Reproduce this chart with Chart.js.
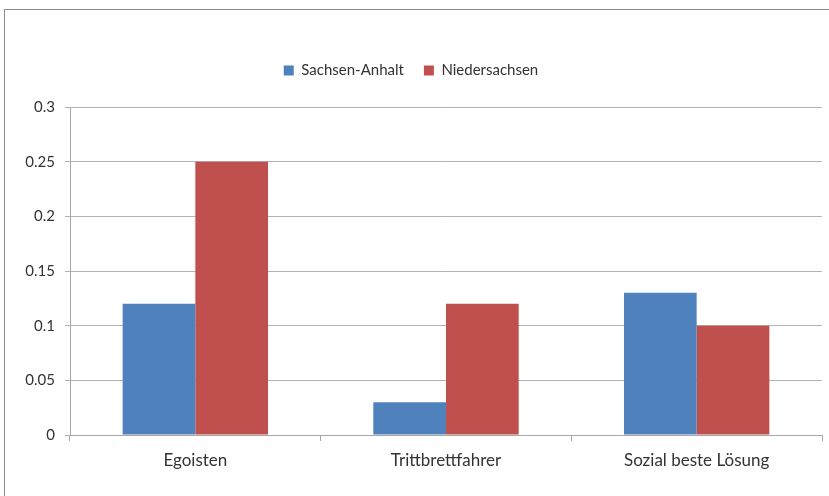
<!DOCTYPE html>
<html>
<head>
<meta charset="utf-8">
<script src="https://cdn.jsdelivr.net/npm/chart.js@4/dist/chart.umd.min.js"></script>
<style>
  html, body { margin: 0; padding: 0; background: #fff; }
  #wrap { position: relative; width: 829px; height: 496px; overflow: hidden; }
  #frame { position: absolute; left: 4px; top: 9px; width: 900px; height: 600px;
           border-left: 1px solid #8c8c8c; border-top: 1px solid #8c8c8c; }
  canvas { position: absolute; left: 0; top: 0; }
</style>
</head>
<body>
<div id="wrap">
  <div id="frame"></div>
  <canvas id="chart" width="829" height="496"></canvas>
</div>
<script>
const categories = ['Egoisten', 'Trittbrettfahrer', 'Sozial beste Lösung'];
const seriesNames = ['Sachsen-Anhalt', 'Niedersachsen'];
const sachsenAnhalt = [0.12, 0.03, 0.13];
const niedersachsen = [0.25, 0.12, 0.10];
const yTicks = [0, 0.05, 0.1, 0.15, 0.2, 0.25, 0.3];

const FONT = 'Lato, "Open Sans", sans-serif';

// legend spacing: pushes the plot down under the legend
const legendSpacer = {
  id: 'legendSpacer',
  beforeInit(chart) {
    const fit = chart.legend.fit;
    chart.legend.fit = function () {
      fit.bind(chart.legend)();
      this.height += 19;
    };
  }
};

new Chart(document.getElementById('chart'), {
  type: 'bar',
  data: {
    labels: categories,
    datasets: [
      { label: seriesNames[0], data: sachsenAnhalt, backgroundColor: '#4f81bd' },
      { label: seriesNames[1], data: niedersachsen, backgroundColor: '#c0504d' }
    ]
  },
  options: {
    responsive: false,
    animation: false,
    categoryPercentage: 0.58,
    barPercentage: 1.0,
    layout: { padding: { left: 0, right: 7, top: 43, bottom: 0 } },
    plugins: {
      tooltip: { enabled: false },
      legend: {
        position: 'top',
        labels: {
          boxWidth: 10,
          boxHeight: 10,
          padding: 20,
          color: '#333',
          font: { family: FONT, size: 15 }
        }
      }
    },
    scales: {
      x: {
        afterFit: s => { s.height = 61; },
        grid: {
          offset: true,
          drawOnChartArea: false,
          drawTicks: true,
          tickLength: 6,
          color: '#a6a6a6'
        },
        border: { color: '#a6a6a6' },
        ticks: {
          color: '#333',
          padding: 9,
          font: { family: FONT, size: 17 }
        }
      },
      y: {
        min: 0,
        max: 0.3,
        afterFit: s => { s.width = 70; },
        afterBuildTicks: s => { s.ticks = yTicks.map(v => ({ value: v })); },
        grid: { color: '#b3b3b3', tickLength: 5 },
        border: { color: '#a6a6a6' },
        ticks: {
          color: '#333',
          padding: 10,
          font: { family: FONT, size: 15 },
          callback: v => String(+v.toFixed(2))
        }
      }
    }
  },
  plugins: [legendSpacer]
});
</script>
</body>
</html>
